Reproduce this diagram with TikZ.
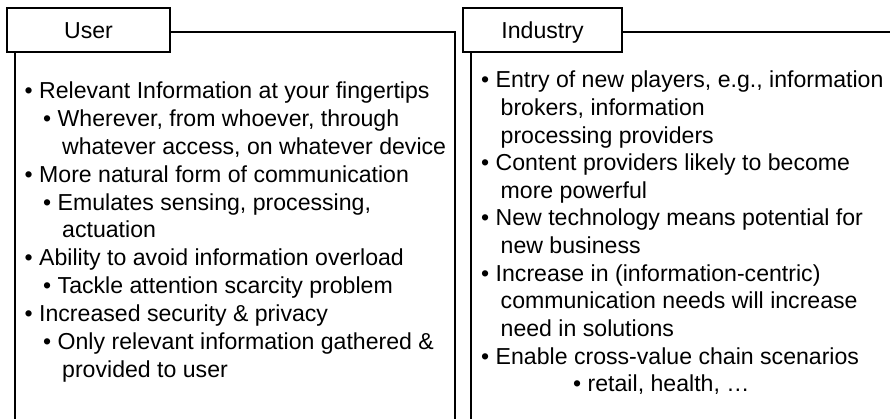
\documentclass[tikz,border=0pt]{standalone}
\usepackage{fontspec}
\setmainfont{Liberation Sans}
\begin{document}
\begin{tikzpicture}[x=1pt,y=-1pt,
  frame/.style={draw=black,line width=1.3pt},
  tabbox/.style={draw=black,fill=white,line width=1.3pt,inner sep=0pt,text height=18pt,text depth=0pt,font=\fontsize{23.1}{27}\selectfont},
  txt/.style={anchor=base west,inner sep=0pt,font=\fontsize{23.1}{27}\selectfont}]
\useasboundingbox (0,0) rectangle (890,419);
\begin{scope}
\clip (0,0) rectangle (890,419);
\draw[frame] (15,32) rectangle (455,440);
\draw[frame] (471,32) rectangle (910,440);
\end{scope}
\node[tabbox,minimum width=163pt,minimum height=44pt] (user) at (88.5,30) {User};
\node[tabbox,minimum width=159pt,minimum height=44pt] (industry) at (542.5,30) {Industry};
% left panel
\node[txt] (l1) at (24.5,99) {• Relevant Information at your fingertips};
\node[txt] (l2) at (43,126.8) {• Wherever, from whoever, through};
\node[txt] (l3) at (62,154.6) {whatever access, on whatever device};
\node[txt] (l4) at (24.5,182.4) {• More natural form of communication};
\node[txt] (l5) at (43,210.2) {• Emulates sensing, processing,};
\node[txt] (l6) at (62,238) {actuation};
\node[txt] (l7) at (24.5,265.8) {• Ability to avoid information overload};
\node[txt] (l8) at (43,293.6) {• Tackle attention scarcity problem};
\node[txt] (l9) at (24.5,321.4) {• Increased security \& privacy};
\node[txt] (l10) at (43,349.2) {• Only relevant information gathered \&};
\node[txt] (l11) at (62,377) {provided to user};
% right panel
\node[txt] (r1) at (481,88) {• Entry of new players, e.g., information};
\node[txt] (r2) at (500.5,115.6) {brokers, information};
\node[txt] (r3) at (500.5,143.2) {processing providers};
\node[txt] (r4) at (481,170.8) {• Content providers likely to become};
\node[txt] (r5) at (500.5,198.4) {more powerful};
\node[txt] (r6) at (481,226) {• New technology means potential for};
\node[txt] (r7) at (500.5,253.6) {new business};
\node[txt] (r8) at (481,281.2) {• Increase in (information-centric)};
\node[txt] (r9) at (500.5,308.8) {communication needs will increase};
\node[txt] (r10) at (500.5,336.4) {need in solutions};
\node[txt] (r11) at (481,364) {• Enable cross-value chain scenarios};
\node[txt] (r12) at (573,391.6) {• retail, health, …};
\end{tikzpicture}
\end{document}
